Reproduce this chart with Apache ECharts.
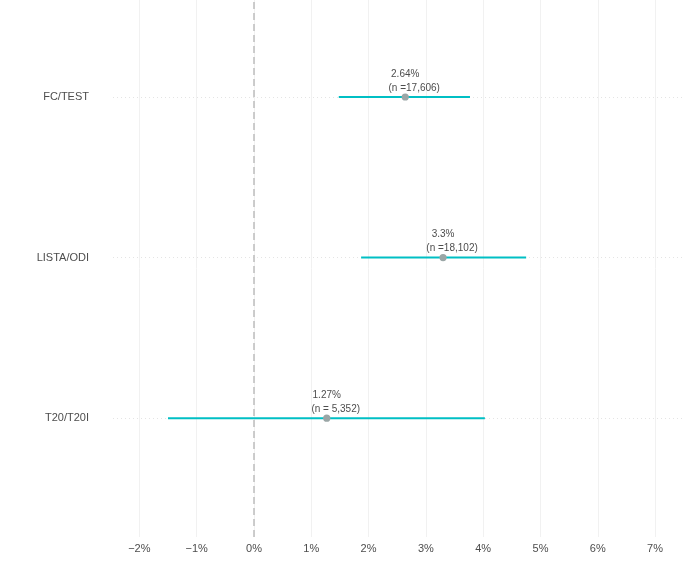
<!DOCTYPE html>
<html>
<head>
<meta charset="utf-8">
<script src="https://cdn.jsdelivr.net/npm/echarts@6/dist/echarts.min.js"></script>
<style>
  html, body { margin: 0; padding: 0; background: #fff; }
  #chart { width: 700px; height: 584px; }
</style>
</head>
<body>
<div id="chart"></div>
<script>
/*数据，自下而上*/
var categories = ['T20/T20I', 'LISTA/ODI', 'FC/TEST'];
var catPos = [1, 2, 3];
var means = [1.27, 3.3, 2.64];
var lower = [-1.50, 1.87, 1.48];
var upper = [4.03, 4.75, 3.77];
var pctLabels = ['1.27%', '3.3%', '2.64%'];
var nLabels = ['(n = 5,352)', '(n =18,102)', '(n =17,606)'];
var xTicks = [-2, -1, 0, 1, 2, 3, 4, 5, 6, 7];

var FONT = '"Liberation Sans", Arial, sans-serif';

var rows = [];
for (var i = 0; i < categories.length; i++) {
	rows.push([means[i], catPos[i], lower[i], upper[i], i]);
}

var chart = echarts.init(document.getElementById('chart'));
var option = {
	animation: false,
	grid: {
		left: 113,
		right: 18,
		top: 0,
		bottom: 47
	},
	xAxis: {
		type: 'value',
		min: -2.46,
		max: 7.47,
		axisLine: { show: false },
		axisTick: { show: false, customValues: xTicks },
		axisLabel: {
			customValues: xTicks,
			margin: 6,
			color: '#4d4d4d',
			fontSize: 11,
			fontFamily: FONT,
			formatter: function (v) {
				return (v < 0 ? '\u2212' + Math.abs(v) : v) + '%';
			}
		},
		splitLine: {
			show: true,
			lineStyle: { color: '#f1f1f1', width: 1 }
		}
	},
	yAxis: {
		type: 'value',
		min: 0.26,
		max: 3.604,
		axisLine: { show: false },
		axisTick: { show: false, customValues: catPos },
		axisLabel: {
			customValues: catPos,
			margin: 24,
			color: '#4d4d4d',
			fontSize: 11,
			fontFamily: FONT,
			formatter: function (v) {
				return categories[Math.round(v) - 1];
			}
		},
		splitLine: {
			show: true,
			lineStyle: { color: '#e4e4e4', width: 1, type: [1, 3] }
		}
	},
	series: [{
		type: 'custom',
		data: rows,
		encode: { x: 0, y: 1 },
		markLine: {
			silent: true,
			symbol: 'none',
			label: { show: false },
			lineStyle: { color: '#bdbdbd', width: 1.5, type: [7, 4] },
			data: [{ xAxis: 0 }]
		},
		renderItem: function (params, api) {
			var idx = api.value(4);
			var p = api.coord([api.value(0), api.value(1)]);
			var l = api.coord([api.value(2), api.value(1)]);
			var r = api.coord([api.value(3), api.value(1)]);
			return {
				type: 'group',
				children: [{
					type: 'line',
					shape: { x1: l[0], y1: l[1], x2: r[0], y2: r[1] },
					style: { stroke: '#00BFC4', lineWidth: 2 }
				}, {
					type: 'circle',
					shape: { cx: p[0], cy: p[1], r: 3.6 },
					style: { fill: '#9aa6a6' }
				}, {
					type: 'text',
					x: p[0],
					y: p[1] - 23,
					style: {
						text: pctLabels[idx],
						fill: '#4d4d4d',
						font: '10px ' + FONT,
						align: 'center',
						verticalAlign: 'middle'
					}
				}, {
					type: 'text',
					x: p[0] + 9,
					y: p[1] - 9,
					style: {
						text: nLabels[idx],
						fill: '#4d4d4d',
						font: '10px ' + FONT,
						align: 'center',
						verticalAlign: 'middle'
					}
				}]
			};
		}
	}]
};
chart.setOption(option);
</script>
</body>
</html>
